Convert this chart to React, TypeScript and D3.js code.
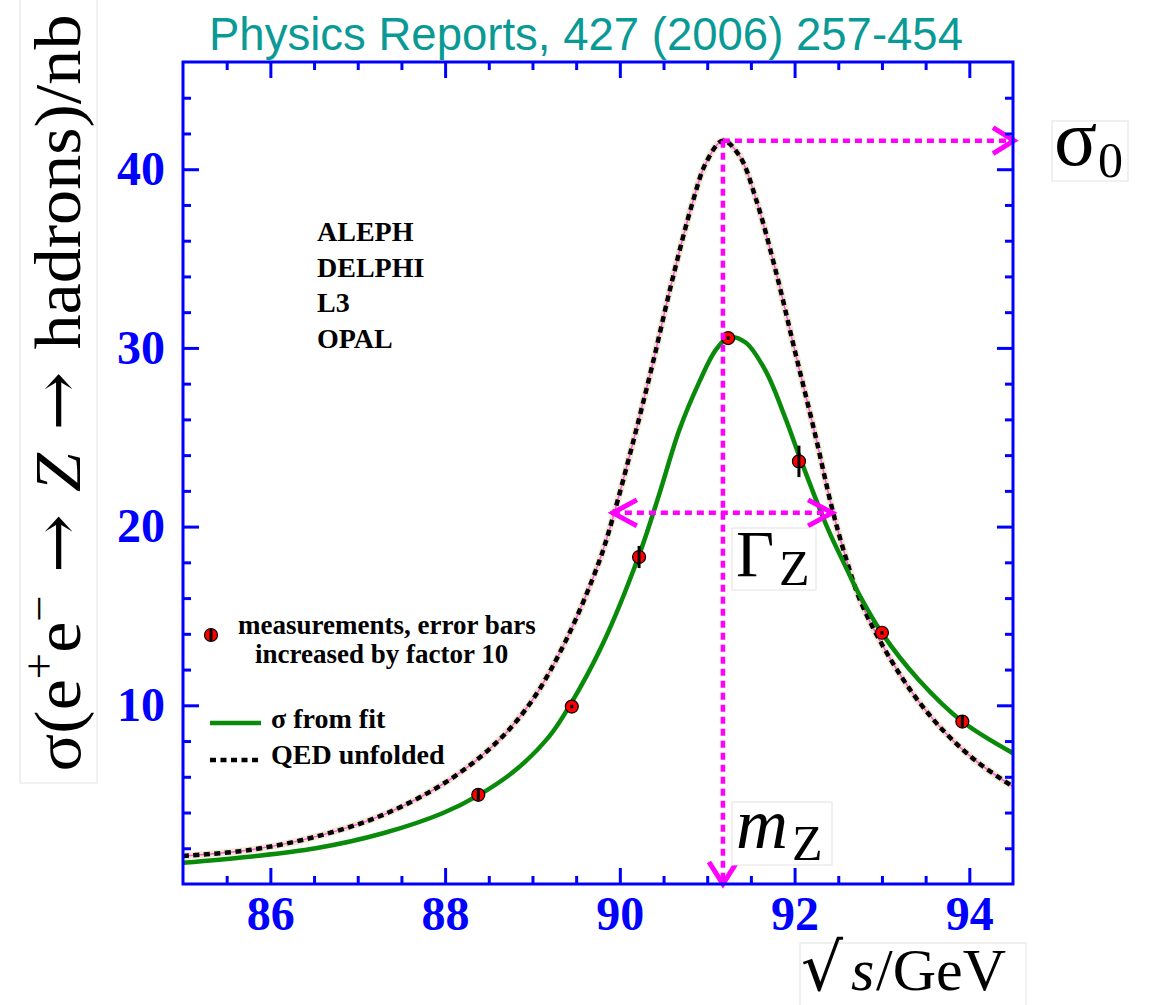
import * as d3 from 'd3';
import { useEffect, useRef } from 'react';

const WIDTH = 1149;
const HEIGHT = 1005;
const margin = { left: 183, top: 62, right: 136, bottom: 121 };
const w = WIDTH - margin.left - margin.right;
const h = HEIGHT - margin.top - margin.bottom;

const title = 'Physics Reports, 427 (2006) 257-454';
const experiments = ['ALEPH', 'DELPHI', 'L3', 'OPAL'];
const xMajorTicks = [86, 88, 90, 92, 94];
const yMajorTicks = [10, 20, 30, 40];

// hadronic cross section measurements (error bars x10)
const energies = [88.38, 89.45, 90.22, 91.24, 92.05, 93.0, 93.92];
const sigmaMeasured = [4.99, 9.93, 18.3, 30.55, 23.65, 14.06, 9.09];
const sigmaError = [0.32, 0.1, 0.62, 0.1, 0.88, 0.1, 0.33];

// sigma from fit (green)
const fitEnergies = [85.0, 85.76, 86.52, 87.29, 87.97, 88.39, 88.81, 89.19, 89.42, 89.8, 90.22, 90.45, 90.68, 90.91, 91.1, 91.25, 91.44, 91.67, 91.9, 92.05, 92.37, 92.57, 92.74, 93.0, 93.42, 93.92, 94.5];
const fitSigma = [1.19, 1.53, 2.0, 2.84, 3.96, 4.99, 6.39, 8.25, 9.93, 13.39, 18.4, 21.8, 25.4, 28.1, 29.9, 30.6, 30.3, 28.7, 26.0, 24.0, 20.0, 17.9, 16.2, 14.04, 11.43, 9.09, 7.32];

// QED unfolded (dotted)
const qedEnergies = [85.0, 85.76, 86.52, 87.29, 88.05, 88.62, 89.0, 89.38, 89.76, 89.92, 90.15, 90.37, 90.6, 90.83, 90.99, 91.18, 91.37, 91.56, 91.79, 92.01, 92.24, 92.43, 92.59, 92.74, 92.97, 93.35, 93.73, 94.11, 94.5];
const qedSigma = [1.57, 1.9, 2.65, 3.87, 5.83, 8.07, 10.3, 13.6, 18.0, 20.5, 24.7, 29.0, 33.8, 38.1, 40.4, 41.6, 40.75, 38.3, 34.2, 29.7, 25.06, 21.0, 18.2, 16.0, 13.67, 10.68, 8.44, 6.76, 5.45];

// Z peak annotations
const massZ = 91.18;
const sigma0 = 41.6;
const halfMax = 20.77;
const halfLow = 89.92;
const halfHigh = 92.43;

const serif = 'Liberation Serif, Times New Roman, serif';
const magenta = '#ff00ff';
const blue = '#0000ff';
const green = '#0a8a0a';

function Chevron({ tx, ty, ax, ay, bx, by }) {
  return (
    <path d={`M${ax},${ay}L${tx},${ty}L${bx},${by}`} fill="none" stroke={magenta} strokeWidth={5} />
  );
}

export default function App() {
  const axesRef = useRef(null);

  const x = d3.scaleLinear().domain([85, 94.5]).range([0, w]);
  const y = d3.scaleLinear().domain([0, 46]).range([h, 0]);

  useEffect(() => {
    const g = d3.select(axesRef.current);
    g.selectAll('*').remove();

    const xMinor = d3.range(85.5, 94.5, 0.5).filter((v) => !xMajorTicks.includes(v));
    const yMinor = d3.range(2, 46, 2).filter((v) => v % 10 !== 0);

    const style = (sel) => {
      sel.select('.domain').remove();
      sel.style('color', blue);
      sel.selectAll('line').attr('stroke-width', 3);
      sel.selectAll('text')
        .attr('font-family', serif)
        .attr('font-weight', 'bold')
        .attr('font-size', 48);
    };

    // bottom
    g.append('g').attr('transform', `translate(0,${h})`)
      .call(d3.axisBottom(x).tickValues(xMajorTicks).tickSizeInner(-16).tickSizeOuter(0).tickPadding(12).tickFormat(d3.format('d')))
      .call(style);
    g.append('g').attr('transform', `translate(0,${h})`)
      .call(d3.axisBottom(x).tickValues(xMinor).tickSizeInner(-8).tickSizeOuter(0).tickFormat(() => ''))
      .call(style);
    // top
    g.append('g')
      .call(d3.axisTop(x).tickValues(xMajorTicks).tickSizeInner(-16).tickSizeOuter(0).tickFormat(() => ''))
      .call(style);
    g.append('g')
      .call(d3.axisTop(x).tickValues(xMinor).tickSizeInner(-8).tickSizeOuter(0).tickFormat(() => ''))
      .call(style);
    // left
    g.append('g')
      .call(d3.axisLeft(y).tickValues(yMajorTicks).tickSizeInner(-16).tickSizeOuter(0).tickPadding(18).tickFormat(d3.format('d')))
      .call(style);
    g.append('g')
      .call(d3.axisLeft(y).tickValues(yMinor).tickSizeInner(-8).tickSizeOuter(0).tickFormat(() => ''))
      .call(style);
    // right
    g.append('g').attr('transform', `translate(${w},0)`)
      .call(d3.axisRight(y).tickValues(yMajorTicks).tickSizeInner(-16).tickSizeOuter(0).tickFormat(() => ''))
      .call(style);
    g.append('g').attr('transform', `translate(${w},0)`)
      .call(d3.axisRight(y).tickValues(yMinor).tickSizeInner(-8).tickSizeOuter(0).tickFormat(() => ''))
      .call(style);

    g.append('rect')
      .attr('width', w)
      .attr('height', h)
      .attr('fill', 'none')
      .attr('stroke', blue)
      .attr('stroke-width', 3);
  }, []);

  const line = d3.line().curve(d3.curveCatmullRom.alpha(0.5));
  const fitPath = line(fitEnergies.map((e, i) => [x(e), y(fitSigma[i])]));
  const qedPath = line(qedEnergies.map((e, i) => [x(e), y(qedSigma[i])]));

  const px = x(massZ);
  const pyTop = y(sigma0);
  const pyHalf = y(halfMax);

  return (
    <svg width={WIDTH} height={HEIGHT} style={{ position: 'absolute', left: 0, top: 0, background: '#fff' }}>
      <defs>
        <clipPath id="plot-clip">
          <rect x={0} y={0} width={w} height={h} />
        </clipPath>
      </defs>

      <text x={209} y={50} fontFamily="Liberation Sans, Arial, sans-serif" fontSize={46} fill="#0a9a95" textLength={754} lengthAdjust="spacingAndGlyphs">
        {title}
      </text>

      {/* y axis title */}
      <rect x={20} y={-2} width={77} height={785} fill="#fff" stroke="#e2e2e2" strokeWidth={1} />
      <text transform="translate(80,393) rotate(-90)" textAnchor="middle" fontFamily={serif} fontSize={66} textLength={757} lengthAdjust="spacingAndGlyphs">
        <tspan>σ(e</tspan>
        <tspan dy={-26} fontSize={44}>+</tspan>
        <tspan dy={26}>e</tspan>
        <tspan dy={-26} fontSize={44}>−</tspan>
        <tspan dy={26} fontFamily="DejaVu Serif, serif">{' → '}</tspan>
        <tspan fontStyle="italic">Z</tspan>
        <tspan fontFamily="DejaVu Serif, serif">{' → '}</tspan>
        <tspan>{'hadrons)/nb'}</tspan>
      </text>

      <g transform={`translate(${margin.left},${margin.top})`}>
        <g clipPath="url(#plot-clip)">
          <path d={qedPath} fill="none" stroke="#efe8d2" strokeWidth={7} />
          <path d={qedPath} fill="none" stroke="#ff55dd" strokeWidth={1.5} />
          <path d={qedPath} fill="none" stroke="#000" strokeWidth={4.5} strokeDasharray="6 4.5" />
          <path d={fitPath} fill="none" stroke={green} strokeWidth={4.5} />
        </g>

        {energies.map((e, i) => (
          <g key={e}>
            <circle cx={x(e)} cy={y(sigmaMeasured[i])} r={6.5} fill="#ff0000" stroke="#000" strokeWidth={1.2} />
            <line x1={x(e)} x2={x(e)} y1={y(sigmaMeasured[i] - sigmaError[i])} y2={y(sigmaMeasured[i] + sigmaError[i])} stroke="#000" strokeWidth={3} />
          </g>
        ))}

        {/* peak position and height */}
        <line x1={px} x2={px} y1={pyTop} y2={h - 2} stroke={magenta} strokeWidth={4.5} strokeDasharray="7 5" />
        <line x1={px} x2={w - 2} y1={pyTop} y2={pyTop} stroke={magenta} strokeWidth={4.5} strokeDasharray="7 5" />
        <Chevron tx={px} ty={h} ax={px - 14} ay={h - 22} bx={px + 14} by={h - 22} />
        <Chevron tx={w + 1} ty={pyTop} ax={w - 20} ay={pyTop - 13} bx={w - 20} by={pyTop + 13} />
        {/* width at half maximum */}
        <line x1={x(halfLow)} x2={x(halfHigh)} y1={pyHalf} y2={pyHalf} stroke={magenta} strokeWidth={4.5} strokeDasharray="7 5" />
        <Chevron tx={x(halfLow)} ty={pyHalf} ax={x(halfLow) + 24} ay={pyHalf - 13} bx={x(halfLow) + 24} by={pyHalf + 13} />
        <Chevron tx={x(halfHigh)} ty={pyHalf} ax={x(halfHigh) - 24} ay={pyHalf - 13} bx={x(halfHigh) - 24} by={pyHalf + 13} />

        <g ref={axesRef} />
      </g>

      {/* experiments */}
      {experiments.map((name, i) => (
        <text key={name} x={317} y={241 + i * 35.7} fontFamily={serif} fontWeight="bold" fontSize={28}>{name}</text>
      ))}

      {/* legend */}
      <circle cx={211} cy={635} r={6.5} fill="#ff0000" stroke="#000" strokeWidth={1.2} />
      <line x1={211} x2={211} y1={629} y2={641} stroke="#000" strokeWidth={3} />
      <text x={238} y={634} fontFamily={serif} fontWeight="bold" fontSize={27}>measurements, error bars</text>
      <text x={255} y={663} fontFamily={serif} fontWeight="bold" fontSize={27}>increased by factor 10</text>
      <line x1={210} x2={261} y1={723} y2={723} stroke={green} strokeWidth={4.5} />
      <text x={271} y={728} fontFamily={serif} fontWeight="bold" fontSize={28}>σ from fit</text>
      <line x1={210} x2={261} y1={760} y2={760} stroke="#000" strokeWidth={4.5} strokeDasharray="6 4.5" />
      <text x={271} y={764} fontFamily={serif} fontWeight="bold" fontSize={28}>QED unfolded</text>

      {/* sigma_0 */}
      <rect x={1052} y={121} width={76} height={60} fill="#fff" stroke="#e2e2e2" />
      <text fontFamily={serif}>
        <tspan x={1054} y={165} fontSize={80}>σ</tspan>
        <tspan x={1098} y={177} fontSize={50}>0</tspan>
      </text>

      {/* Gamma_Z */}
      <rect x={732} y={528} width={84} height={62} fill="#fff" stroke="#e2e2e2" />
      <text fontFamily={serif}>
        <tspan x={736} y={576} fontSize={66}>Γ</tspan>
        <tspan x={779} y={585} fontSize={50}>Z</tspan>
      </text>

      {/* m_Z */}
      <rect x={732} y={802} width={100} height={63} fill="#fff" stroke="#e2e2e2" />
      <text fontFamily={serif}>
        <tspan x={736} y={848} fontSize={72} fontStyle="italic">m</tspan>
        <tspan x={792} y={860} fontSize={50}>Z</tspan>
      </text>

      {/* sqrt(s)/GeV */}
      <rect x={800} y={943} width={226} height={70} fill="#fff" stroke="#e2e2e2" />
      <text fontFamily={serif} fontSize={60}>
        <tspan x={801} y={990} fontFamily="DejaVu Serif, serif" fontSize={66}>√</tspan>
        <tspan x={851} y={990} fontStyle="italic">s</tspan>
        <tspan x={876} y={990}>/GeV</tspan>
      </text>
    </svg>
  );
}
